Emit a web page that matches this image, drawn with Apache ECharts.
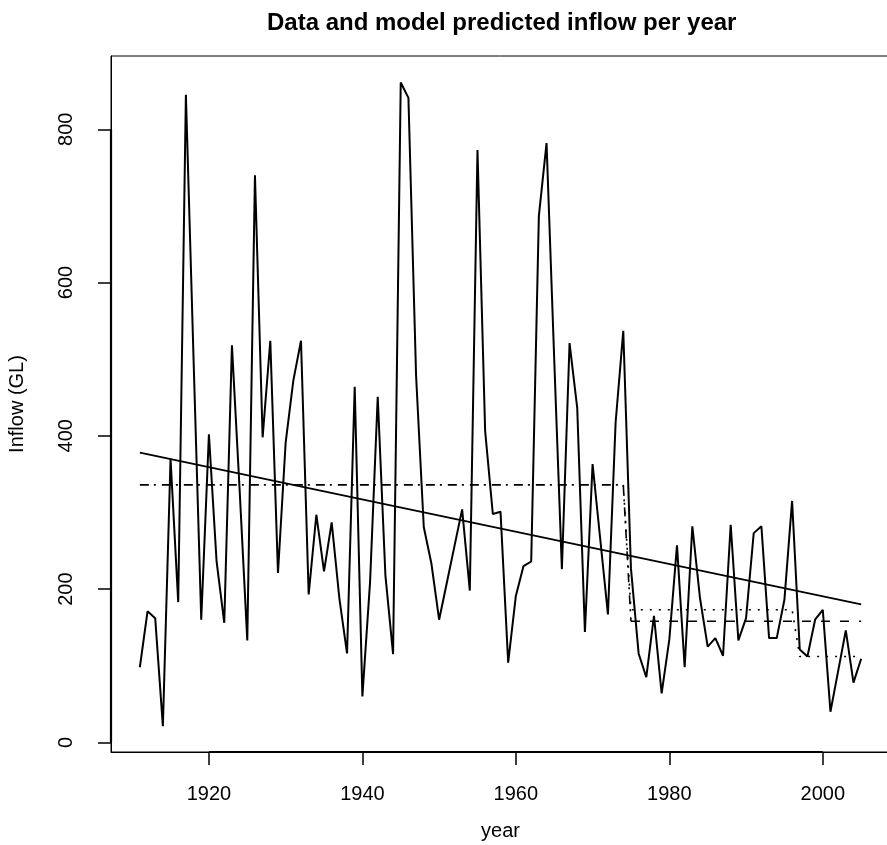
<!DOCTYPE html>
<html>
<head>
<meta charset="utf-8">
<script src="https://cdn.jsdelivr.net/npm/echarts@6/dist/echarts.min.js"></script>
<style>
html,body{margin:0;padding:0;background:#fff;}
#chart{width:887px;height:845px;}
</style>
</head>
<body>
<div id="chart"></div>
<script>
// ---- data ----
var years = [1911,1912,1913,1914,1915,1916,1917,1918,1919,1920,
  1921,1922,1923,1924,1925,1926,1927,1928,1929,1930,
  1931,1932,1933,1934,1935,1936,1937,1938,1939,1940,
  1941,1942,1943,1944,1945,1946,1947,1948,1949,1950,
  1951,1952,1953,1954,1955,1956,1957,1958,1959,1960,
  1961,1962,1963,1964,1965,1966,1967,1968,1969,1970,
  1971,1972,1973,1974,1975,1976,1977,1978,1979,1980,
  1981,1982,1983,1984,1985,1986,1987,1988,1989,1990,
  1991,1992,1993,1994,1995,1996,1997,1998,1999,2000,
  2001,2002,2003,2004,2005];
var inflow = [98,171,162,21,370,183,845,500,160,402,
  236,156,518,330,133,740,398,524,221,391,
  472,524,193,297,223,287,188,116,464,60,
  209,451,218,115,861,841,478,281,233,160,
  208,256,304,198,773,406,298,301,104,191,
  230,236,687,782,500,226,521,436,144,363,
  265,167,417,537,227,116,85,165,64,134,
  257,98,282,188,125,136,113,284,133,162,
  273,282,136,136,186,315,121,112,160,173,
  40,93,146,78,109];
// linear trend model
var trendYears = [1911, 2005];
var trendValues = [378, 180];
// one change-point model (dot-dash before, dashed after)
var stepYears = [1911, 1974, 1975];
var stepValues = [336, 336, 158];
var stepAfterYears = [1975, 2005];
var stepAfterValues = [158, 158];
// two change-point model (dotted)
var twoStepYears = [1974, 1975, 1996, 1997, 2005];
var twoStepValues = [336, 173, 173, 112, 112];
// axis ticks
var xTicks = [1920, 1940, 1960, 1980, 2000];
var yTicks = [0, 200, 400, 600, 800];
var xRange = [1907.24, 2008.76];
var yRange = [-12.6, 895.6];

function pairs(xs, ys){ return xs.map(function(x,i){ return [x, ys[i]]; }); }

var FONT = 'Liberation Sans, Arial, Helvetica, sans-serif';
var chart = echarts.init(document.getElementById('chart'), null, {renderer:'canvas'});
chart.setOption({
  animation: false,
  backgroundColor: '#fff',
  title: {
    text: 'Data and model predicted inflow per year',
    left: 262, top: 6,
    textStyle: {fontFamily: FONT, fontSize: 24, fontWeight: 'bold', color: '#000'}
  },
  grid: {
    left: 111, top: 56, width: 779, height: 696,
    outerBoundsMode: 'none', containLabel: false,
    show: true, borderColor: '#000', borderWidth: 1, backgroundColor: 'transparent'
  },
  xAxis: {
    type: 'value', min: xRange[0], max: xRange[1],
    name: 'year', nameLocation: 'middle', nameGap: 69,
    nameTextStyle: {fontFamily: FONT, fontSize: 20, color: '#000'},
    axisLine: {show: true, onZero: false, lineStyle: {color: '#000', width: 1}},
    axisTick: {show: true, length: 13, customValues: xTicks, lineStyle: {color: '#000', width: 1.5}},
    axisLabel: {customValues: xTicks, margin: 32, fontFamily: FONT, fontSize: 20, color: '#000', lineHeight: 20,
      formatter: function(v){ return String(Math.round(v)); }},
    splitLine: {show: false}
  },
  yAxis: {
    type: 'value', min: yRange[0], max: yRange[1],
    name: 'Inflow (GL)', nameLocation: 'middle', nameGap: 84, nameRotate: 90,
    nameTextStyle: {fontFamily: FONT, fontSize: 20, color: '#000'},
    axisLine: {show: true, onZero: false, lineStyle: {color: '#000', width: 1}},
    axisTick: {show: true, length: 13, customValues: yTicks, lineStyle: {color: '#000', width: 1.5}},
    axisLabel: {customValues: yTicks, rotate: 90, margin: 35, fontFamily: FONT, fontSize: 20, color: '#000', lineHeight: 20,
      formatter: function(v){ return String(Math.round(v)); }},
    splitLine: {show: false}
  },
  series: [
    {
      name: 'inflow', type: 'line', data: pairs(years, inflow),
      showSymbol: false, symbol: 'none',
      lineStyle: {color: '#000', width: 2}
    },
    {
      name: 'trend', type: 'line', data: pairs(trendYears, trendValues),
      symbol: 'none', lineStyle: {color: '#000', width: 1.8}
    },
    {
      name: 'step', type: 'line', data: pairs(stepYears, stepValues),
      symbol: 'none', lineStyle: {color: '#000', width: 1.6, type: [9, 5, 2, 6]}
    },
    {
      name: 'stepAfter', type: 'line', data: pairs(stepAfterYears, stepAfterValues),
      symbol: 'none', lineStyle: {color: '#000', width: 1.6, type: [9, 10]}
    },
    {
      name: 'twoStep', type: 'line', data: pairs(twoStepYears, twoStepValues),
      symbol: 'none', lineStyle: {color: '#000', width: 1.6, type: [2, 7]}
    },
    {
      name: 'xAxisSpan', type: 'line', clip: false, silent: true,
      data: [[xTicks[0], yRange[0]], [xTicks[xTicks.length-1], yRange[0]]],
      symbol: 'none', lineStyle: {color: '#000', width: 2.2}
    },
    {
      name: 'yAxisSpan', type: 'line', clip: false, silent: true,
      data: [[xRange[0], yTicks[0]], [xRange[0], yTicks[yTicks.length-1]]],
      symbol: 'none', lineStyle: {color: '#000', width: 2.2}
    }
  ]
});
</script>
</body>
</html>
